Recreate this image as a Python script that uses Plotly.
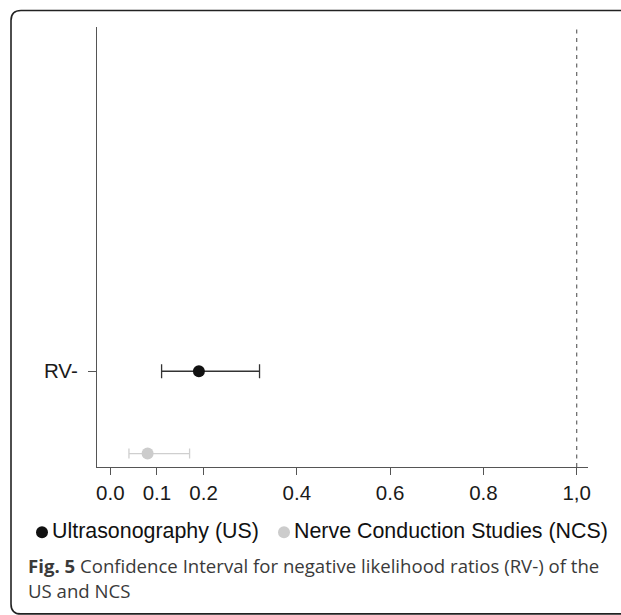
import plotly.graph_objects as go

# Data
methods = ["Ultrasonography (US)", "Nerve Conduction Studies (NCS)"]
row_labels = ["RV-", "NCS"]
estimates = [0.19, 0.08]
lower = [0.11, 0.04]
upper = [0.32, 0.17]
colors = ["#111111", "#cccccc"]
bar_colors = ["#333333", "#cfcfcf"]
x_tickvals = [0.0, 0.1, 0.2, 0.4, 0.6, 0.8, 1.0]
x_ticktext = ["0.0", "0.1", "0.2", "0.4", "0.6", "0.8", "1,0"]
reference_line = 1.0

W, H = 621, 615
L, R, T, B = 97, 588, 27, 466.7


def px(x):
    return (x - L) / (R - L)


def py(y):
    return (B - y) / (B - T)


fig = go.Figure()
for i in range(len(methods)):
    fig.add_trace(go.Scatter(
        x=[estimates[i]], y=[row_labels[i]], mode="markers", name=methods[i],
        marker=dict(color=colors[i], size=12, line=dict(width=0)),
        error_x=dict(type="data", symmetric=False,
                     array=[upper[i] - estimates[i]],
                     arrayminus=[estimates[i] - lower[i]],
                     color=bar_colors[i], thickness=1.3, width=7 if i == 0 else 5),
        showlegend=False,
    ))

fig.add_shape(type="line", xref="x", yref="paper", x0=reference_line, x1=reference_line,
              y0=0, y1=1, line=dict(color="#707070", width=1.3, dash="4px,4.5px"))

# rounded frame (open to the right / bottom edges)
rx, ry = 10 / (R - L), 10 / (B - T)
xl, xr, yt, yb = px(11), px(660), py(10.5), py(613.5)
path = (f"M {xr},{yt} L {xl+rx},{yt} Q {xl},{yt} {xl},{yt-ry} "
        f"L {xl},{yb+ry} Q {xl},{yb} {xl+rx},{yb} L {xr},{yb}")
fig.add_shape(type="path", xref="paper", yref="paper", path=path,
              line=dict(color="#222222", width=1.6))

# legend (bullets + labels)
legend_bullets_x = [42, 284]
legend_text_x = [50, 291.5]
for i in range(len(methods)):
    fig.add_shape(type="circle", xref="paper", yref="paper",
                  xsizemode="pixel", ysizemode="pixel",
                  xanchor=px(legend_bullets_x[i]), yanchor=py(532),
                  x0=-6, x1=6, y0=-6, y1=6,
                  fillcolor=colors[i], line=dict(width=0))
    fig.add_annotation(xref="paper", yref="paper", x=px(legend_text_x[i]), y=py(531),
                       xanchor="left", yanchor="middle", showarrow=False, text=methods[i],
                       font=dict(family="Liberation Sans, Arial", size=21.4, color="#111111"))

fig.add_annotation(xref="paper", yref="paper", x=px(26), y=py(565), xanchor="left",
                   yanchor="middle", showarrow=False,
                   text="<b>Fig. 5</b> Confidence Interval for negative likelihood ratios (RV-) of the",
                   font=dict(family="Open Sans", size=18.6, color="#3a3a3a"))
fig.add_annotation(xref="paper", yref="paper", x=px(26), y=py(590), xanchor="left",
                   yanchor="middle", showarrow=False, text="US and NCS",
                   font=dict(family="Open Sans", size=18.6, color="#3a3a3a"))

fig.update_layout(
    width=W, height=H,
    margin=dict(l=L, r=W - R, t=T, b=H - B, pad=0),
    plot_bgcolor="white", paper_bgcolor="white",
    font=dict(family="Liberation Sans, Arial", size=20.5, color="#1a1a1a"),
)
fig.update_xaxes(range=[-0.0285, 1.0243], tickvals=x_tickvals, ticktext=x_ticktext,
                 showline=True, linecolor="#555555", linewidth=1.3, ticks="outside",
                 ticklen=7, tickcolor="#555555", tickwidth=1.2,
                 showgrid=False, zeroline=False)
fig.update_yaxes(type="category", categoryarray=["NCS", "RV-"], range=[-0.163, 5.18],
                 tickvals=["RV-"], ticktext=["RV-"], ticklabelstandoff=6,
                 showline=True, linecolor="#555555", linewidth=1.3, ticks="outside",
                 ticklen=8, tickcolor="#555555", tickwidth=1.2,
                 showgrid=False, zeroline=False)

fig.write_html("out.html", config={"displayModeBar": False},
               post_script="document.body.style.margin='0';")
